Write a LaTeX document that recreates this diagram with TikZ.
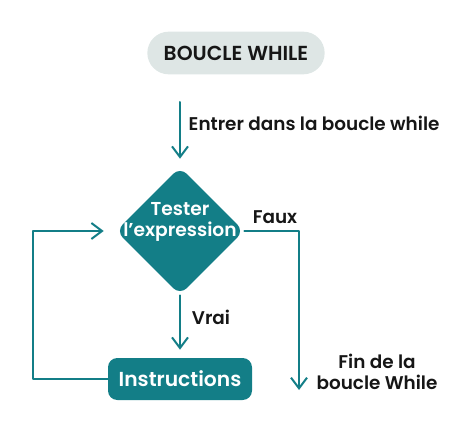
\documentclass[tikz,border=0pt]{standalone}
\usepackage{fontspec}
\setmainfont{Poppins}[BoldFont={* SemiBold}]
\usepackage{xcolor}
\definecolor{teal}{HTML}{137E87}
\definecolor{grey}{HTML}{DEE6E5}
\definecolor{ink}{HTML}{161616}
\usetikzlibrary{arrows.meta,shapes.geometric}
\tikzset{
    flow/.style = {draw=teal, line width=1.5pt,
        -{Straight Barb[length=8pt,width=12pt,line width=1.5pt]}},
    pill/.style = {fill=grey, rounded corners=16pt, minimum width=133pt,
        minimum height=32pt, inner sep=0pt},
    losange/.style = {diamond, aspect=1, fill=teal, rounded corners=7pt,
        minimum size=96pt, inner sep=0pt},
    boite/.style = {fill=teal, rounded corners=7pt, minimum width=108pt,
        minimum height=31.5pt, inner sep=0pt},
    blanc/.style = {text=white, font=\bfseries\fontsize{14}{16}\selectfont, align=center},
    label/.style = {text=ink, font=\bfseries\fontsize{13.8}{16}\selectfont, align=center},
    big/.style = {font=\bfseries\fontsize{15.2}{16}\selectfont}
}
\begin{document}
\begin{tikzpicture}[line cap=round,line join=round,x=0.75pt,y=-0.75pt]
    \useasboundingbox (0,0) rectangle (474,434);
    % nodes
    \node[pill, label, big] (titre) at (236,53) {BOUCLE WHILE};
    \node[losange] (test) at (180,231) {};
    \node[blanc] (testtxt) at (180,222) {Tester\\l’expression};
    \node[boite, blanc, big] (instr) at (180,379) {Instructions};
    \coordinate (entree) at (180,102);
    \coordinate (fin) at (299,390);
    \coordinate (retour) at (33,231);
    % connectors
    \draw[flow, shorten >=6pt] (entree) -- (test.north);
    \draw[flow, shorten >=6pt] (test.south) -- (instr.north);
    \draw[flow] (test.east) -| (fin);
    \draw[flow, shorten >=9pt] (instr.west) -| (retour) -- (test.west);
    % labels
    \node[label, anchor=west] (lentree) at (184,123) {Entrer dans la boucle while};
    \node[label] (lfaux) at (275,217) {Faux};
    \node[label] (lvrai) at (211,317) {Vrai};
    \node[label] (lfin) at (377,372) {Fin de la\\boucle While};
\end{tikzpicture}
\end{document}
